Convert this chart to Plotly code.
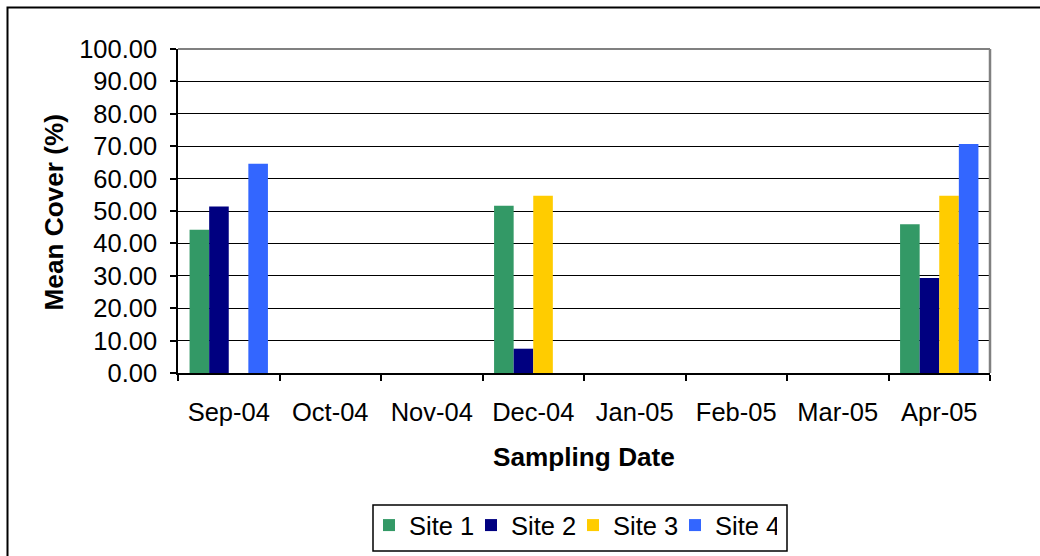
import plotly.graph_objects as go

# Sampling dates (monthly categories)
months = ["Sep-04", "Oct-04", "Nov-04", "Dec-04", "Jan-05", "Feb-05", "Mar-05", "Apr-05"]

# Mean cover (%) per site
site1 = [44.2, 0, 0, 51.6, 0, 0, 0, 45.9]
site2 = [51.4, 0, 0, 7.5, 0, 0, 0, 29.3]
site3 = [0, 0, 0, 54.7, 0, 0, 0, 54.7]
site4 = [64.6, 0, 0, 0, 0, 0, 0, 70.7]

series_names = ["Site 1", "Site 2", "Site 3", "Site 4"]
series_values = [site1, site2, site3, site4]
series_colors = ["#339966", "#000080", "#FFCC00", "#3366FF"]

FONT = "Liberation Sans, Arial, sans-serif"
TICK_SIZE = 25.5
TITLE_SIZE = 26.2

fig = go.Figure()
for name, vals, col in zip(series_names, series_values, series_colors):
    fig.add_trace(go.Bar(
        x=months, y=vals, name=name,
        marker=dict(color=col, line=dict(width=0)),
    ))

W, H = 1040, 556
L, R, T, B = 178, 50, 49, 183
pw, ph = W - L - R, H - T - B


def px_x(px):
    return (px - L) / pw


def px_y(py):
    return (H - B - py) / ph


fig.update_layout(
    width=W, height=H,
    margin=dict(l=L, r=R, t=T, b=B, autoexpand=False),
    paper_bgcolor="white", plot_bgcolor="white",
    barmode="group", bargap=0.228, bargroupgap=0,
    font=dict(family=FONT, size=TICK_SIZE, color="black"),
    showlegend=True,
    legend=dict(
        orientation="h",
        x=px_x(369), xanchor="left",
        y=px_y(502), yanchor="top",
        bgcolor="rgba(0,0,0,0)", borderwidth=0,
        font=dict(size=TICK_SIZE, family=FONT, color="black"),
        entrywidth=57, entrywidthmode="pixels",
        tracegroupgap=0,
    ),
    xaxis=dict(
        type="category",
        showgrid=False,
        showline=True, linecolor="black", linewidth=1.5,
        ticks="outside", tickson="boundaries", ticklen=6,
        tickcolor="black", tickwidth=1.5,
        tickfont=dict(size=TICK_SIZE, family=FONT, color="black"),
        ticklabelstandoff=16,
    ),
    yaxis=dict(
        range=[0, 100], dtick=10, tickformat=".2f",
        showgrid=True, gridcolor="black", gridwidth=1,
        showline=True, linecolor="black", linewidth=1.5,
        ticks="outside", ticklen=6, tickcolor="black", tickwidth=1.5,
        tickfont=dict(size=TICK_SIZE, family=FONT, color="black"),
        ticklabelstandoff=8,
        zeroline=False,
    ),
    annotations=[
        dict(text="<b>Mean Cover (%)</b>", textangle=-90,
             x=px_x(53), y=px_y(212.5), xref="paper", yref="paper",
             xanchor="center", yanchor="middle", showarrow=False,
             font=dict(size=TITLE_SIZE, family=FONT, color="black")),
        dict(text="<b>Sampling Date</b>",
             x=px_x(584), y=px_y(457), xref="paper", yref="paper",
             xanchor="center", yanchor="middle", showarrow=False,
             font=dict(size=TITLE_SIZE, family=FONT, color="black")),
    ],
    shapes=[
        # grey plot-area frame on top and right
        dict(type="line", xref="paper", yref="paper", x0=0, x1=1, y0=1, y1=1,
             line=dict(color="#808080", width=2)),
        dict(type="line", xref="paper", yref="paper", x0=1, x1=1, y0=0, y1=1,
             line=dict(color="#808080", width=2.5)),
        # legend frame
        dict(type="rect", xref="paper", yref="paper",
             x0=px_x(373), x1=px_x(787), y0=px_y(551), y1=px_y(505),
             line=dict(color="black", width=1.5), fillcolor="rgba(0,0,0,0)"),
        # outer chart frame (left and top edges)
        dict(type="path", xref="paper", yref="paper",
             path=f"M {px_x(7.5)},{px_y(560)} L {px_x(7.5)},{px_y(7.5)} L {px_x(1045)},{px_y(7.5)}",
             line=dict(color="black", width=2)),
    ],
)

fig.write_html("out.html")
